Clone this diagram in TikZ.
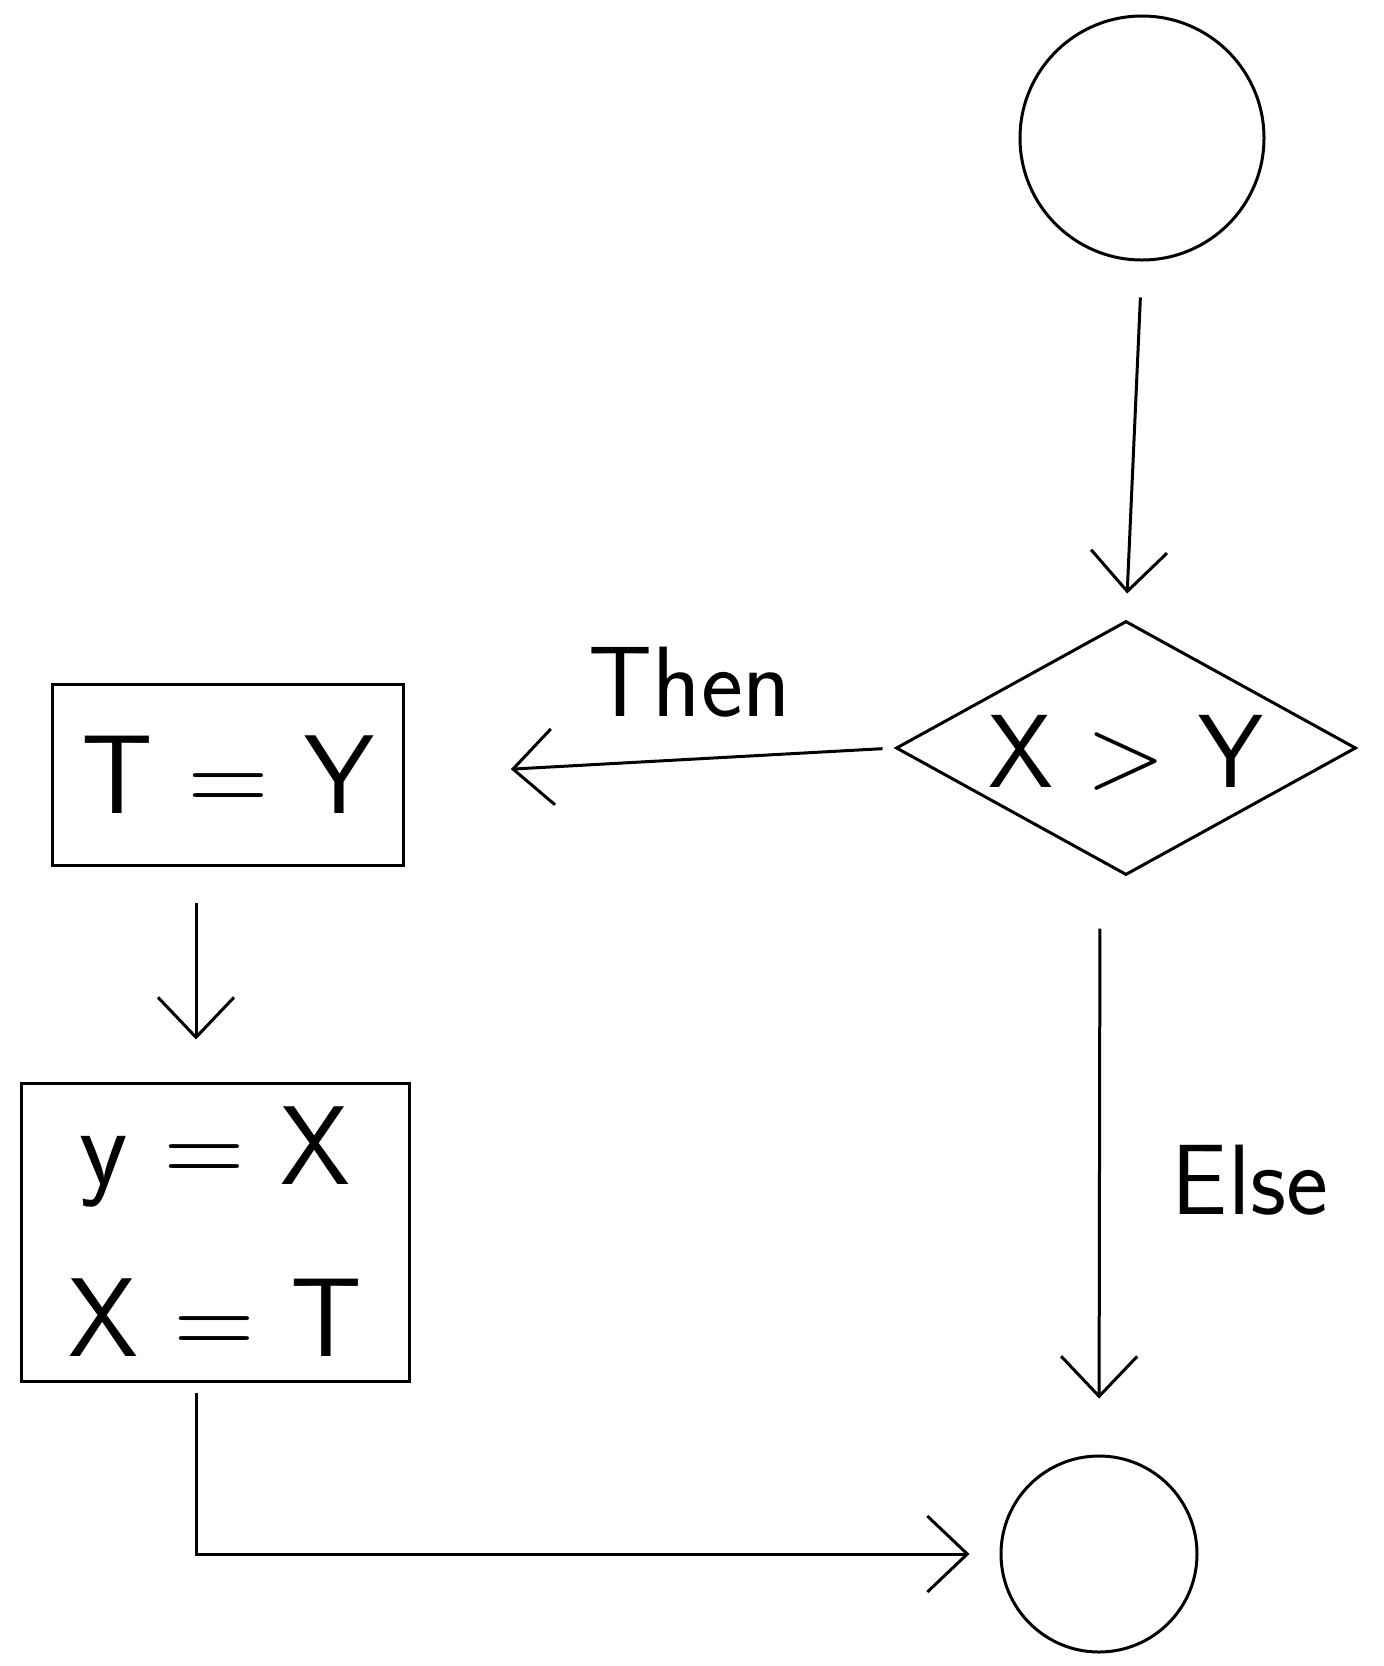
\documentclass[tikz,border=0pt]{standalone}
\usepackage{fontspec}
\usetikzlibrary{shapes.geometric,arrows.meta,calc}
\begin{document}
\begin{tikzpicture}
  [x=0.5pt,y=-0.5pt,line width=1.5pt,
   every node/.style={font=\sffamily\fontsize{56}{68}\selectfont},
   term/.style={circle,draw,inner sep=0pt},
   box/.style={rectangle,draw,inner sep=0pt},
   test/.style={diamond,draw,inner sep=0pt,minimum width=230pt,minimum height=127pt},
   flow/.style={-{Straight Barb[length=20pt,width=38pt]}},
   lbl/.style={font=\sffamily\fontsize{50}{60}\selectfont}]
  \useasboundingbox (0,0) rectangle (1383,1666);

  \node[term,minimum size=122pt] (start) at (1142,138) {};
  \node[test] (cond) at (1126,748)
    {\makebox[0pt]{\smash{\raisebox{-.35em}{\fontsize{52}{60}\selectfont X > Y}}}};
  \node[box,minimum width=175.5pt,minimum height=90.5pt] (t1) at (228,775) {T = Y};
  \node[box,minimum width=194pt,minimum height=149pt,align=center] (t2) at (215,1232)
    {y = X\\[18pt]X = T};
  \node[term,minimum size=98pt] (end) at (1099,1554) {};

  \node[lbl] (then) at (690,682) {Then};
  \node[lbl] (else) at (1250,1180) {Else};

  \draw[flow,shorten <=18pt,shorten >=13pt] (start.south) -- (cond.north);
  \draw[flow,shorten <=6pt,shorten >=53pt] (cond.west) -- (t1.east);
  \draw[flow,shorten <=18pt,shorten >=21pt] ([xshift=-16pt]t1.south) -- ([xshift=-9.5pt]t2.north);
  \draw[flow,shorten <=26pt,shorten >=28pt] ([xshift=-13pt]cond.south) -- (end.north);
  \draw[flow,shorten <=5pt,shorten >=15pt] ([xshift=-9.5pt]t2.south) |- (end.west);

\end{tikzpicture}
\end{document}
